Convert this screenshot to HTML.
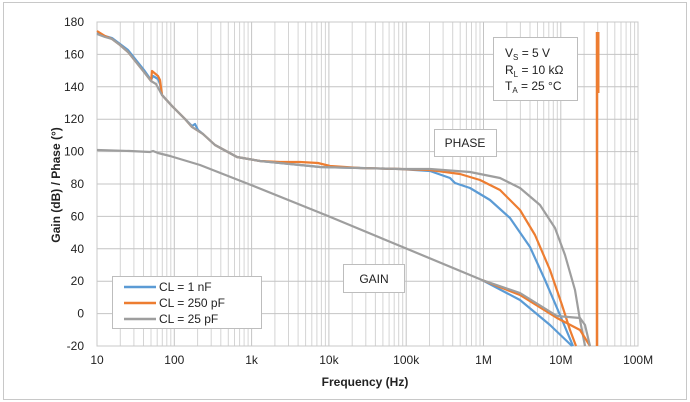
<!DOCTYPE html>
<html><head><meta charset="utf-8"><style>
body{margin:0;background:#fff;}
svg{display:block;font-family:"Liberation Sans",sans-serif;}
</style></head><body>
<svg width="690" height="402" viewBox="0 0 690 402">
<rect x="3.5" y="2.5" width="683" height="397" fill="#fff" stroke="#c8c8c8"/>
<g id="grid" stroke="#d4d4d4" stroke-width="1"></g>
<rect x="97" y="22" width="541" height="324" fill="none" stroke="#c8c8c8"/>
<g font-size="12" fill="#222" text-anchor="end" id="yl"></g>
<g font-size="12" fill="#222" text-anchor="middle" id="xl"></g>
<text x="365" y="386" font-size="12" font-weight="bold" text-anchor="middle" fill="#222">Frequency (Hz)</text>
<text transform="translate(60,185) rotate(-90)" font-size="12" font-weight="bold" text-anchor="middle" fill="#222">Gain (dB) / Phase (°)</text>
<g fill="none" stroke-width="2.2" stroke-linejoin="round">
<polyline stroke="#5b9bd5" points="97,33 105,36 112,38 120,44 128,50 136,60 144,70 151,80 153,76 158,79 160,84 162,95 172,106 185,119 192,126 195,124 198,130 203,134 215,145 237,157 260,161 280,163 300,165 320,167 360,168 400,169 430,171 450,178 455,183 470,188 490,200 510,218 530,247 545,280 560,315 573,346"/>
<polyline stroke="#ed7d31" points="97,31 105,36 112,39 120,45 128,52 136,62 144,72 151,81 152,71 158,76 160,80 162,95 172,106 185,119 192,127 203,134 215,145 237,157 260,161 280,162 300,162 318,163 330,166 360,168 400,169 430,170 460,174 480,180 500,190 520,210 535,235 550,270 562,305 570,330 576,346"/>
<polyline stroke="#9e9e9e" points="97,34 105,37 112,39 120,45 128,52 136,62 144,72 151,81 156,84 162,95 172,106 185,119 192,127 203,134 215,145 237,157 260,161 280,163 300,165 320,167 360,168 400,169 430,169 470,172 500,178 520,188 540,205 555,228 565,255 575,290 580,320 585,346"/>
<polyline stroke="#5b9bd5" points="482,280 520,300 550,325 572,346"/>
<polyline stroke="#ed7d31" points="482,280 520,295 557,318 580,330 590,346"/>
<polyline stroke="#9e9e9e" points="97,150 130,151 150,152 153,151 158,153 170,156 200,165 251,185 328,216 405,248 482,280 520,293 557,316 580,318 585,325 590,346"/>
<line x1="597" y1="346" x2="597" y2="32" stroke="#ed7d31" stroke-width="2.5"/>
<line x1="598" y1="32" x2="598" y2="93" stroke="#ed7d31" stroke-width="3"/>
</g>
<rect x="493.5" y="37.5" width="84" height="63" fill="#fff" stroke="#bdbdbd"/>
<text x="505" y="57" font-size="12" fill="#222">V<tspan font-size="8" dy="3">S</tspan><tspan dy="-3"> = 5 V</tspan></text>
<text x="505" y="74" font-size="12" fill="#222">R<tspan font-size="8" dy="3">L</tspan><tspan dy="-3"> = 10 kΩ</tspan></text>
<text x="505" y="90" font-size="12" fill="#222">T<tspan font-size="8" dy="3">A</tspan><tspan dy="-3"> = 25 °C</tspan></text>
<rect x="434.5" y="129.5" width="62" height="27" fill="#fff" stroke="#bdbdbd"/>
<text x="465" y="147" font-size="12" text-anchor="middle" fill="#222">PHASE</text>
<rect x="343.5" y="264.5" width="61" height="28" fill="#fff" stroke="#bdbdbd"/>
<text x="374" y="283" font-size="12" text-anchor="middle" fill="#222">GAIN</text>
<rect x="112.5" y="276.5" width="149" height="52" fill="#fff" stroke="#bdbdbd"/>
<g stroke-width="2.5"><line x1="124" y1="287" x2="156" y2="287" stroke="#5b9bd5"/><line x1="124" y1="303" x2="156" y2="303" stroke="#ed7d31"/><line x1="124" y1="319" x2="156" y2="319" stroke="#9e9e9e"/></g>
<g font-size="12" fill="#222"><text x="159" y="291">CL = 1 nF</text><text x="159" y="307">CL = 250 pF</text><text x="159" y="323">CL = 25 pF</text></g>
</svg>
<script>
var g=document.getElementById('grid'),ns='http://www.w3.org/2000/svg';
function L(x1,y1,x2,y2,c){var l=document.createElementNS(ns,'line');l.setAttribute('x1',x1);l.setAttribute('y1',y1);l.setAttribute('x2',x2);l.setAttribute('y2',y2);if(c)l.setAttribute('stroke',c);g.appendChild(l);}
var X0=97,D=77.3;
for(var d=0;d<7;d++)for(var m=1;m<10;m++){var x=X0+D*(d+Math.log10(m));L(x.toFixed(1),22,x.toFixed(1),346,m==1?'#c4c4c4':null);}
var yl=document.getElementById('yl'),xl=document.getElementById('xl');
for(var i=0;i<=10;i++){var y=22+i*32.4;L(97,y,638,y,'#c4c4c4');var t=document.createElementNS(ns,'text');t.setAttribute('x',84);t.setAttribute('y',y+4);t.textContent=180-20*i;yl.appendChild(t);}
var labs=['10','100','1k','10k','100k','1M','10M','100M'];
for(var i=0;i<8;i++){var t=document.createElementNS(ns,'text');t.setAttribute('x',X0+D*i);t.setAttribute('y',364);t.textContent=labs[i];xl.appendChild(t);}
</script>
</body></html>
